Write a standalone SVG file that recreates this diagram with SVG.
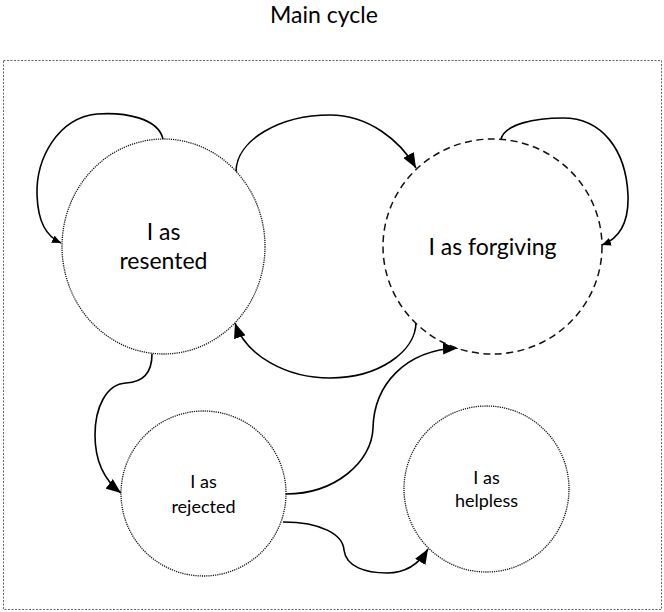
<svg xmlns="http://www.w3.org/2000/svg" width="664" height="612" viewBox="0 0 664 612">
<defs>
<style>
.frame{fill:none;stroke:#666;stroke-width:1;stroke-dasharray:2,1.5}
.dot{fill:#fff;stroke:#111;stroke-width:1.3;stroke-dasharray:1.2,1}
.dash{fill:#fff;stroke:#111;stroke-width:1.5;stroke-dasharray:7,4.5}
.edge{fill:none;stroke:#000;stroke-width:1.6}
.big{marker-end:url(#ah)}
.small{marker-end:url(#as)}
text{font-family:Lato,"Liberation Sans",sans-serif;fill:#000;text-anchor:middle}
.t1{font-size:23px}
.t2{font-size:18px}
.title{font-size:23px}
</style>
<marker id="ah" markerUnits="userSpaceOnUse" markerWidth="16" markerHeight="12" refX="15" refY="6" orient="auto"><path d="M0,0 L15,6 L0,12 Z" fill="#000"/></marker>
<marker id="as" markerUnits="userSpaceOnUse" markerWidth="10" markerHeight="8" refX="9" refY="4" orient="auto"><path d="M0,0 L9,4 L0,8 Z" fill="#000"/></marker>
</defs>
<text class="title" x="324" y="23">Main cycle</text>
<rect class="frame" x="3.5" y="60.5" width="658" height="549"/>
<g id="connectors">
<path class="edge small" d="M163,139 C158,118 125,112 97,114 C58,118 36,158 37,195 C38,222 46,236 61,243"/>
<path class="edge big" d="M236,172 C236,140 280,115 330,115 C368,115 400,140 416,168"/>
<path class="edge small" d="M501,139 C505,124 535,118 563,118 C602,118 626,150 628,195 C629,222 620,238 602,245"/>
<path class="edge big" d="M416,322 C416,352 378,378 330,378 C287,378 246,356 235,323"/>
<path class="edge big" d="M152,354 C152,370 146,382 126,383 C106,384 95,408 95,435 C95,460 104,480 121,493"/>
<path class="edge big" d="M286,494 C335,494 372,462 373,428 C374,385 405,350 458,348"/>
<path class="edge big" d="M283,522 C322,522 343,535 344,550 C346,567 366,573 387,573 C405,573 419,564 428,549"/>
</g>
<g id="node-resented">
<ellipse class="dot" cx="163.5" cy="246.5" rx="101.5" ry="107.5"/>
<text class="t1" x="163.5" y="240">I as</text>
<text class="t1" x="163.5" y="269">resented</text>
</g>
<g id="node-forgiving">
<ellipse class="dash" cx="492.5" cy="246.5" rx="109.5" ry="107.5"/>
<text class="t1" x="492.5" y="255">I as forgiving</text>
</g>
<g id="node-rejected">
<ellipse class="dot" cx="203.5" cy="493.5" rx="82.5" ry="82.5"/>
<text class="t2" x="203.5" y="488">I as</text>
<text class="t2" x="203.5" y="513">rejected</text>
</g>
<g id="node-helpless">
<ellipse class="dot" cx="486.5" cy="489" rx="82.5" ry="83"/>
<text class="t2" x="486.5" y="484">I as</text>
<text class="t2" x="486.5" y="507">helpless</text>
</g>
</svg>
